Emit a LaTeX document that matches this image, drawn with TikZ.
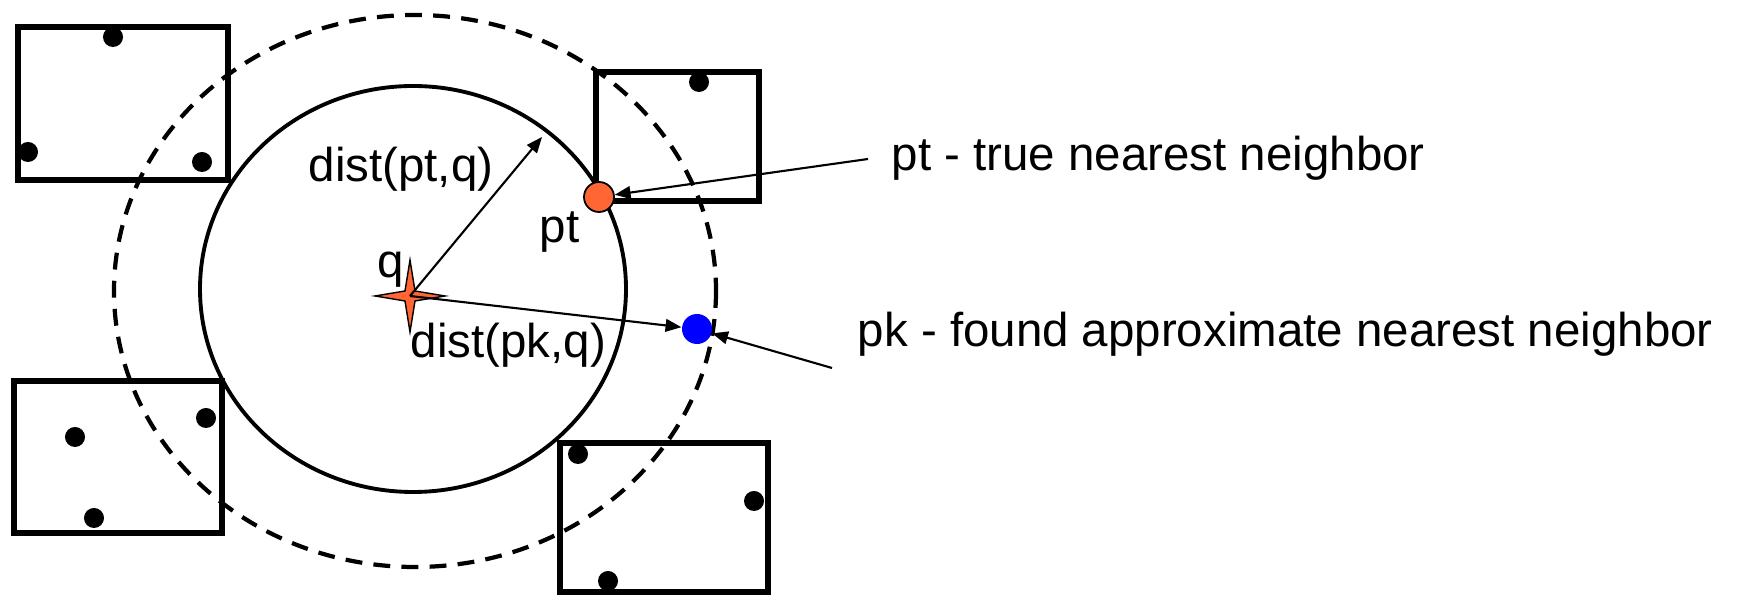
\documentclass[tikz,border=0pt]{standalone}
\usepackage{fontspec}
\setmainfont{Liberation Sans}
\usetikzlibrary{arrows.meta}
\definecolor{qorange}{RGB}{255,102,51}

\begin{document}
\begin{tikzpicture}[x=0.01cm, y=-0.01cm, >={Triangle[length=4.5pt, width=3.6pt]},
		cell/.style={draw, line width=1.6pt},
		pnt/.style={circle, fill=black, inner sep=0pt, minimum size=0.2cm},
		hit/.style={circle, inner sep=0pt, minimum size=0.3cm},
		lbl/.style={inner sep=0pt, anchor=base west, font=\fontsize{13.5pt}{16pt}\selectfont},
		ptr/.style={->, line width=0.6pt}]
		
		\useasboundingbox (0,0) rectangle (1740,595);
		
		% Cerchi attorno a q
		\draw [line width=1.1pt] (413,289) ellipse [x radius=213, y radius=203];
		\draw [line width=1.2pt, dash pattern=on 4.8pt off 3.2pt] (415,291) ellipse [x radius=301, y radius=276];
		
		% Celle con i punti
		\draw [cell] (18,27) rectangle (228,180);
		\node [pnt] (a1) at (113,37) {};
		\node [pnt] (a2) at (28,152) {};
		\node [pnt] (a3) at (202,162) {};
		
		\draw [cell] (596,72) rectangle (759,201);
		\node [pnt] (b1) at (699,82) {};
		
		\draw [cell] (14,381) rectangle (222,533);
		\node [pnt] (c1) at (75,437) {};
		\node [pnt] (c2) at (206,418) {};
		\node [pnt] (c3) at (94,518) {};
		
		\draw [cell] (560,443) rectangle (768,592);
		\node [pnt] (d1) at (578,454) {};
		\node [pnt] (d2) at (754,501) {};
		\node [pnt] (d3) at (608,581) {};
		
		% Query q e vicini
		\coordinate (q) at (410,296);
		\draw [fill=qorange, line width=0.4pt, shift={(q)}]
			(-35,0) -- (-5,-5) -- (0,-36) -- (5,-5) -- (35,0) -- (5,5) -- (0,36) -- (-5,5) -- cycle;
		\node [hit, draw=black, line width=0.5pt, fill=qorange] (pt) at (599,197) {};
		\node [hit, fill=blue] (pk) at (697,329) {};
		\coordinate (rim) at (542,137);
		
		% Etichette
		\node [lbl] (qlab) at (377,278) {q};
		\node [lbl] (ptlab) at (539,243) {pt};
		\node [lbl] (dpt) at (308,182) {dist(pt,q)};
		\node [lbl] (dpk) at (410,358) {dist(pk,q)};
		\node [lbl] (ptdesc) at (891,171) {pt - true nearest neighbor};
		\node [lbl] (pkdesc) at (857,347) {pk - found approximate nearest neighbor};
		\coordinate (ptfrom) at (868,159);
		\coordinate (pkfrom) at (832,368);
		
		% Frecce
		\draw [ptr] (q) -- (rim);
		\draw [ptr] (q) -- (pk);
		\draw [ptr] (ptfrom) -- (pt);
		\draw [ptr] (pkfrom) -- (pk);
		
	\end{tikzpicture}
\end{document}
